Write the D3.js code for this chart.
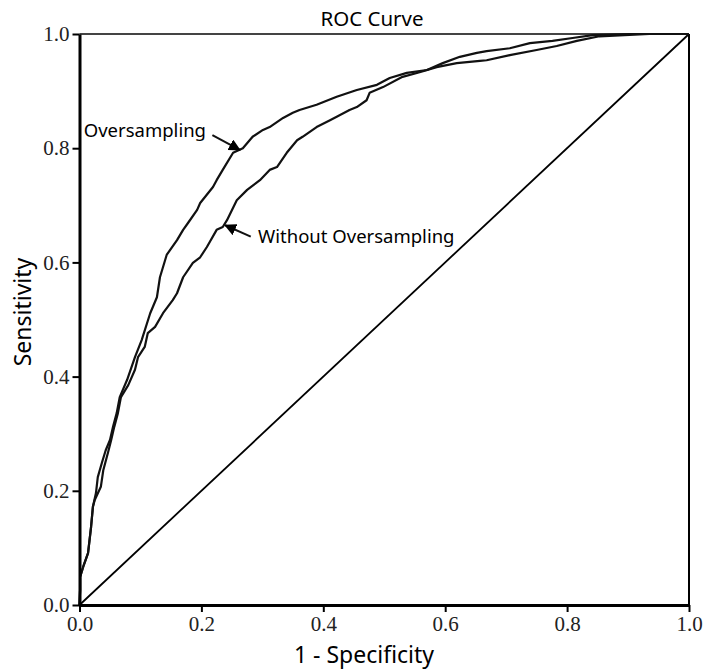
<!DOCTYPE html>
<html>
<head>
<meta charset="utf-8">
<script src="https://cdn.jsdelivr.net/npm/d3@7"></script>
<style>
  body { margin: 0; background: #fff; }
  .tick text { font-family: "Liberation Serif", "DejaVu Serif", serif; font-size: 21px; fill: #222; }
  .lbl { font-family: "Noto Sans", "Open Sans", sans-serif; fill: #000; }
</style>
</head>
<body>
<div id="chart"></div>
<script>
// Chart size
var width = 707;
var height = 669;

// Tick values for both axes
var ticks = [0, 0.2, 0.4, 0.6, 0.8, 1.0];

// ROC curve with oversampling (1 - specificity, sensitivity)
var overFpr = [0, 0.001, 0.001, 0.007, 0.014, 0.019, 0.022, 0.027, 0.030, 0.037, 0.043, 0.050, 0.055, 0.061,
  0.066, 0.078, 0.091, 0.102, 0.116, 0.127, 0.132, 0.143, 0.160, 0.170, 0.178, 0.193, 0.198, 0.219,
  0.225, 0.235, 0.252, 0.268, 0.284, 0.301, 0.312, 0.334, 0.350, 0.361, 0.389, 0.422, 0.455, 0.488,
  0.509, 0.537, 0.570, 0.596, 0.624, 0.652, 0.668, 0.706, 0.739, 0.776, 0.809, 0.842, 0.902, 1.0];
var overTpr = [0, 0.026, 0.049, 0.070, 0.091, 0.137, 0.172, 0.196, 0.224, 0.250, 0.271, 0.289, 0.312, 0.336,
  0.364, 0.394, 0.434, 0.464, 0.511, 0.539, 0.574, 0.613, 0.639, 0.657, 0.669, 0.692, 0.704, 0.732,
  0.744, 0.762, 0.792, 0.800, 0.820, 0.832, 0.837, 0.853, 0.862, 0.867, 0.876, 0.890, 0.902, 0.911,
  0.923, 0.932, 0.937, 0.949, 0.960, 0.967, 0.970, 0.975, 0.984, 0.988, 0.993, 0.998, 1.0, 1.0];

// ROC curve without oversampling
var baseFpr = [0, 0.001, 0.001, 0.007, 0.014, 0.019, 0.022, 0.025, 0.035, 0.039, 0.047, 0.052, 0.057, 0.063,
  0.068, 0.080, 0.091, 0.096, 0.107, 0.112, 0.124, 0.137, 0.153, 0.160, 0.170, 0.186, 0.198, 0.209,
  0.225, 0.235, 0.242, 0.258, 0.275, 0.296, 0.312, 0.324, 0.340, 0.357, 0.366, 0.389, 0.411, 0.422,
  0.443, 0.455, 0.471, 0.476, 0.498, 0.530, 0.558, 0.586, 0.619, 0.657, 0.668, 0.706, 0.750, 0.783,
  0.816, 0.853, 0.935, 1.0];
var baseTpr = [0, 0.026, 0.049, 0.070, 0.091, 0.137, 0.172, 0.184, 0.207, 0.236, 0.268, 0.289, 0.312, 0.336,
  0.364, 0.385, 0.412, 0.434, 0.452, 0.476, 0.487, 0.511, 0.534, 0.546, 0.574, 0.599, 0.609, 0.627,
  0.657, 0.662, 0.674, 0.709, 0.727, 0.744, 0.762, 0.767, 0.792, 0.814, 0.820, 0.837, 0.849, 0.855,
  0.867, 0.872, 0.884, 0.897, 0.907, 0.925, 0.933, 0.942, 0.949, 0.953, 0.954, 0.963, 0.972, 0.979,
  0.988, 0.996, 1.0, 1.0];

// Annotation labels: [text x, text baseline y, arrow start x, y, arrow tip x, y] in data units
var annoText = ["Oversampling", "Without Oversampling"];
var annoPos = [
  [0.007, 0.820, 0.218, 0.823, 0.263, 0.797],
  [0.293, 0.634, 0.281, 0.645, 0.239, 0.665]
];

var svg = d3
  .select("#chart")
  .append("svg")
  .attr("width", width)
  .attr("height", height);

var xScale = d3.scaleLinear().domain([0, 1]).range([79.5, 689]);
var yScale = d3.scaleLinear().domain([0, 1]).range([605, 34]);

// arrow head
svg.append("defs")
  .append("marker")
  .attr("id", "head")
  .attr("viewBox", "0 0 10 10")
  .attr("refX", 9)
  .attr("refY", 5)
  .attr("markerWidth", 6)
  .attr("markerHeight", 6)
  .attr("markerUnits", "strokeWidth")
  .attr("orient", "auto")
  .append("path")
  .attr("d", "M0,0 L10,5 L0,10 Z")
  .attr("fill", "#000");

// frame top / right
svg.append("line")
  .attr("x1", xScale(0)).attr("x2", xScale(1))
  .attr("y1", yScale(1)).attr("y2", yScale(1))
  .attr("stroke", "#444").attr("stroke-width", 2);
svg.append("line")
  .attr("x1", xScale(1)).attr("x2", xScale(1))
  .attr("y1", yScale(1)).attr("y2", yScale(0))
  .attr("stroke", "#000").attr("stroke-width", 2);

// diagonal reference
svg.append("line")
  .attr("x1", xScale(0)).attr("y1", yScale(0))
  .attr("x2", xScale(1)).attr("y2", yScale(1))
  .attr("stroke", "#000").attr("stroke-width", 1.8);

// curves
var line = d3.line()
  .x(function(d) { return xScale(d[0]); })
  .y(function(d) { return yScale(d[1]); });

var curves = [d3.zip(baseFpr, baseTpr), d3.zip(overFpr, overTpr)];
svg.selectAll("path.roc")
  .data(curves)
  .enter()
  .append("path")
  .attr("class", "roc")
  .attr("d", line)
  .attr("fill", "none")
  .attr("stroke", "#111")
  .attr("stroke-width", 2.2)
  .attr("stroke-linejoin", "round");

// axes
var xAxis = d3.axisBottom(xScale).tickValues(ticks).tickFormat(d3.format(".1f")).tickSize(7).tickSizeOuter(0).tickPadding(4);
var yAxis = d3.axisLeft(yScale).tickValues(ticks).tickFormat(d3.format(".1f")).tickSize(7).tickSizeOuter(0).tickPadding(3);

var gx = svg.append("g")
  .attr("transform", "translate(0," + yScale(0) + ")")
  .call(xAxis);
var gy = svg.append("g")
  .attr("transform", "translate(" + xScale(0) + ",0)")
  .call(yAxis);

gx.select(".domain").attr("stroke-width", 3);
gy.select(".domain").attr("stroke-width", 3);
svg.selectAll(".tick line").attr("stroke-width", 2);
svg.selectAll(".tick text").attr("fill", "#222");

// annotations
annoText.forEach(function(t, i) {
  var p = annoPos[i];
  svg.append("text")
    .attr("class", "lbl")
    .attr("x", xScale(p[0]))
    .attr("y", yScale(p[1]))
    .attr("font-size", 18.5)
    .text(t);
  svg.append("line")
    .attr("x1", xScale(p[2])).attr("y1", yScale(p[3]))
    .attr("x2", xScale(p[4])).attr("y2", yScale(p[5]))
    .attr("stroke", "#111")
    .attr("stroke-width", 2)
    .attr("marker-end", "url(#head)");
});

// titles
svg.append("text")
  .attr("class", "lbl")
  .attr("x", 372)
  .attr("y", 26)
  .attr("text-anchor", "middle")
  .attr("font-size", 20.5)
  .text("ROC Curve");

svg.append("text")
  .attr("class", "lbl")
  .attr("x", 364)
  .attr("y", 663)
  .attr("text-anchor", "middle")
  .attr("font-size", 23)
  .text("1 - Specificity");

svg.append("text")
  .attr("class", "lbl")
  .attr("transform", "translate(31,312)rotate(-90)")
  .attr("text-anchor", "middle")
  .attr("font-size", 23)
  .text("Sensitivity");
</script>
</body>
</html>
